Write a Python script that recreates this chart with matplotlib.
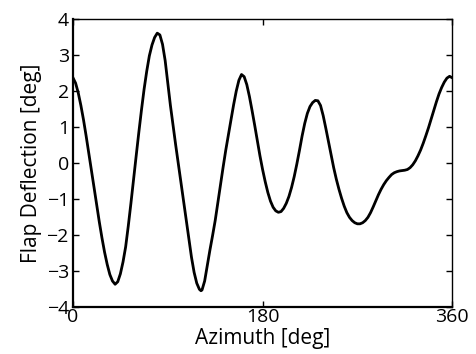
import matplotlib
matplotlib.use("Agg")
import matplotlib.pyplot as plt

plt.rcParams['font.family'] = ['Open Sans', 'DejaVu Sans']

# azimuth [deg] and flap deflection [deg]
azimuth = [0, 2.5, 5, 7.5, 10, 12.5, 15, 17.5, 20, 22.5, 25, 27.5, 30,
           32.5, 35, 37.5, 40, 42.5, 45, 47.5, 50, 52.5, 55, 57.5, 60,
           62.5, 65, 67.5, 70, 72.5, 75, 77.5, 80, 82.5, 85, 87.5, 90,
           92.5, 95, 97.5, 100, 102.5, 105, 107.5, 110, 112.5, 115, 117.5,
           120, 121.5, 122.5, 125, 127.5, 130, 132.5, 135, 137.5, 140,
           142.5, 145, 147.5, 150, 152.5, 155, 157.5, 160, 162.5, 165,
           167.5, 170, 172.5, 175, 177.5, 180, 182.5, 185, 187.5, 190,
           192.5, 195, 197.5, 200, 202.5, 205, 207.5, 210, 212.5, 215,
           217.5, 220, 222.5, 225, 227.5, 230, 232.5, 235, 237.5, 240,
           242.5, 245, 247.5, 250, 252.5, 255, 257.5, 260, 262.5, 265,
           267.5, 270, 272.5, 275, 277.5, 280, 282.5, 285, 287.5, 290,
           292.5, 295, 297.5, 300, 302.5, 305, 307.5, 310, 312.5, 315,
           317.5, 320, 322.5, 325, 327.5, 330, 332.5, 335, 337.5, 340,
           342.5, 345, 347.5, 350, 352.5, 355, 357.5, 360]
deflection = [2.37, 2.22, 1.95, 1.60, 1.20, 0.75, 0.28, -0.20, -0.68,
              -1.17, -1.64, -2.08, -2.48,
              -2.82, -3.10, -3.28, -3.37, -3.30, -3.08, -2.75, -2.33, -1.75,
              -1.12, -0.45, 0.20,
              0.85, 1.47, 2.05, 2.55, 2.98, 3.28, 3.49, 3.61, 3.56, 3.30,
              2.85, 2.22,
              1.60, 1.04, 0.50, -0.02, -0.55, -1.07, -1.60, -2.12, -2.62,
              -3.04, -3.34,
              -3.51, -3.55, -3.53, -3.28, -2.85, -2.42, -2.02, -1.60, -1.10,
              -0.62,
              -0.12, 0.35, 0.78, 1.20, 1.62, 2.00, 2.30, 2.46, 2.40, 2.18,
              1.85, 1.46, 1.05, 0.62, 0.20, -0.18, -0.52, -0.82, -1.06,
              -1.23,
              -1.33, -1.37, -1.35, -1.26, -1.12, -0.93, -0.68, -0.38, -0.03,
              0.35,
              0.75, 1.10, 1.38, 1.57, 1.68, 1.74, 1.73, 1.60, 1.32, 0.97,
              0.60, 0.22, -0.13, -0.45, -0.73, -0.98, -1.20, -1.38, -1.51,
              -1.60,
              -1.66, -1.69, -1.69, -1.66, -1.60, -1.51, -1.38, -1.22, -1.05,
              -0.88,
              -0.73, -0.60, -0.49, -0.40, -0.32, -0.27, -0.24, -0.22, -0.21,
              -0.20,
              -0.18, -0.13, -0.05, 0.06, 0.20, 0.36, 0.55, 0.76, 0.98, 1.22,
              1.46, 1.70, 1.92, 2.10, 2.25, 2.36, 2.41, 2.37]

x_ticks = [0, 180, 360]
y_ticks = [-4, -3, -2, -1, 0, 1, 2, 3, 4]

fig, ax = plt.subplots(figsize=(4.77, 3.54), dpi=100)
fig.subplots_adjust(left=0.153, right=0.948, bottom=0.133, top=0.946)

ax.plot(azimuth, deflection, color='black', linewidth=2)

ax.set_xlim(0, 360)
ax.set_ylim(-4, 4)
ax.set_xticks(x_ticks)
ax.set_yticks(y_ticks)
ax.tick_params(direction='in', top=True, right=True, length=4, width=1,
               labelsize=14)
ax.tick_params(axis='x', pad=1)
ax.tick_params(axis='y', pad=3)
for side in ['left', 'bottom']:
    ax.spines[side].set_linewidth(1.6)
for side in ['top', 'right']:
    ax.spines[side].set_linewidth(1.0)

ax.set_xlabel('Azimuth [deg]', fontsize=15, labelpad=1)
ax.set_ylabel('Flap Deflection [deg]', fontsize=15, labelpad=3)

fig.savefig('out.png', dpi=100)
